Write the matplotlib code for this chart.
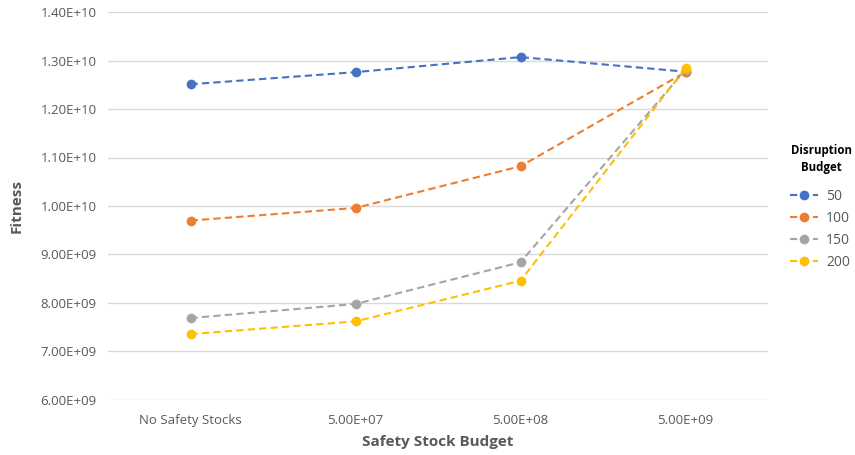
import matplotlib
matplotlib.use("Agg")
import matplotlib.pyplot as plt
from matplotlib.ticker import FuncFormatter

categories = ["No Safety Stocks", "5.00E+07", "5.00E+08", "5.00E+09"]
series_names = ["50", "100", "150", "200"]
s50 = [1.251e10, 1.276e10, 1.307e10, 1.277e10]
s100 = [9.70e9, 9.96e9, 1.082e10, 1.276e10]
s150 = [7.69e9, 7.98e9, 8.84e9, 1.281e10]
s200 = [7.36e9, 7.62e9, 8.46e9, 1.284e10]
colors = ["#4472C4", "#ED7D31", "#A5A5A5", "#FFC000"]

plt.rcParams['font.family'] = ['Open Sans', 'DejaVu Sans']

W, H = 855, 455
fig = plt.figure(figsize=(W / 100, H / 100), dpi=100)
ax = fig.add_axes([108 / W, 55 / H, 660 / W, 388 / H])

x = list(range(len(categories)))
for vals, name, c in zip([s50, s100, s150, s200], series_names, colors):
    ax.plot(x, vals, color=c, linestyle=(0, (3.5, 2)), linewidth=1.5,
            marker='o', markersize=7, markeredgewidth=0, label=name)

ax.set_xlim(-0.5, 3.5)
ax.set_ylim(6e9, 1.4e10)
ax.set_yticks([6e9 + i * 1e9 for i in range(9)])
ax.yaxis.set_major_formatter(FuncFormatter(lambda v, p: f"{v:.2E}"))
ax.set_xticks(x)
ax.set_xticklabels(categories)
ax.grid(axis='y', color='#d9d9d9', linewidth=1)
ax.set_axisbelow(True)
for s in ax.spines.values():
    s.set_visible(False)
ax.tick_params(length=0, labelsize=9.5, labelcolor='#595959', pad=8)
ax.tick_params(axis='x', pad=10)

ax.set_ylabel("Fitness", fontsize=11, fontweight='bold', color='#595959', labelpad=12)
ax.set_xlabel("Safety Stock Budget", fontsize=11, fontweight='bold', color='#595959', labelpad=6)

fig.text(821 / W, 1 - 159 / H, "Disruption\nBudget", ha='center', va='center',
         fontsize=8.3, fontweight='bold', color='black', multialignment='center', linespacing=1.35)

leg = fig.legend(loc='upper left', bbox_to_anchor=(790 / W, 1 - 189 / H),
                 frameon=False, fontsize=10, handlelength=2.0, handletextpad=0.6,
                 labelspacing=0.5, borderpad=0, borderaxespad=0)
for t in leg.get_texts():
    t.set_color('#595959')

fig.savefig("out.png", dpi=100)
